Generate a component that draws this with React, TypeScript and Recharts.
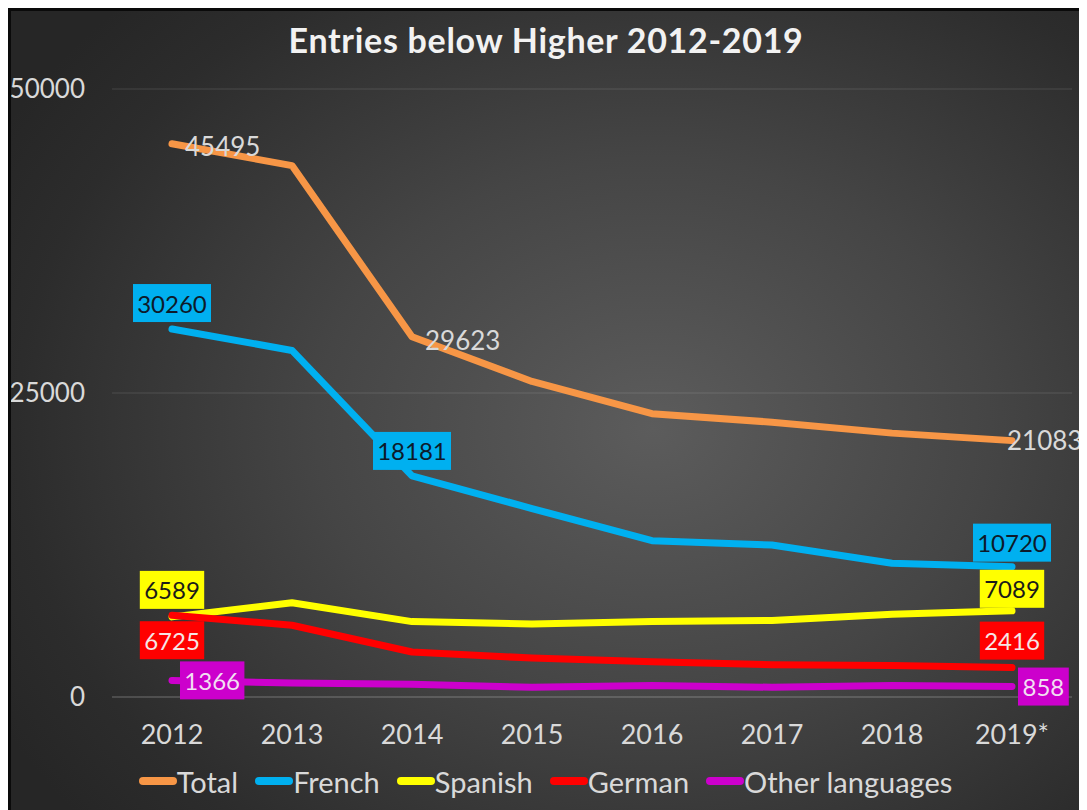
import { LineChart, Line, XAxis, YAxis, CartesianGrid, Legend, LabelList } from 'recharts';

const YEARS = ['2012', '2013', '2014', '2015', '2016', '2017', '2018', '2019*'];
const TOTAL = [45495, 43700, 29623, 25950, 23300, 22600, 21700, 21083];
const FRENCH = [30260, 28500, 18181, 15500, 12850, 12500, 11000, 10720];
const SPANISH = [6589, 7750, 6200, 6000, 6200, 6300, 6800, 7089];
const GERMAN = [6725, 5900, 3700, 3200, 2900, 2650, 2600, 2416];
const OTHER = [1366, 1150, 1050, 800, 950, 800, 950, 858];
const Y_TICKS = [0, 25000, 50000];

const SERIES = [
  { key: 'Total', color: '#F79646' },
  { key: 'French', color: '#00B0F0' },
  { key: 'Spanish', color: '#FFFF00' },
  { key: 'German', color: '#FF0000' },
  { key: 'Other languages', color: '#CC00CC' },
];

const data = YEARS.map((year, i) => ({
  year,
  Total: TOTAL[i],
  French: FRENCH[i],
  Spanish: SPANISH[i],
  German: GERMAN[i],
  'Other languages': OTHER[i],
}));

const FONT = 'Lato, "Open Sans", sans-serif';

type Spot = { i: number; dx: number; dy: number; side?: 'right' };

// label drawn at chosen points only, with optional coloured box
function makeLabel(spots: Spot[], box: string | null, fg: string, fs: number) {
  return (props: any) => {
    const { x, y, value, index } = props;
    const s = spots.find((p) => p.i === index);
    if (!s) return null;
    const text = String(value);
    const w = text.length * 13.6 + 10;
    const h = 38;
    let cx = x + s.dx;
    const cy = y + s.dy;
    if (s.side === 'right') cx += w / 2;
    if (!box) {
      return (
        <text key={`l-${index}`} x={x + s.dx} y={cy} dominantBaseline="central" fill={fg} fontSize={fs} fontFamily={FONT}>
          {text}
        </text>
      );
    }
    return (
      <g key={`l-${index}`}>
        <rect x={cx - w / 2} y={cy - h / 2} width={w} height={h} fill={box} />
        <text x={cx} y={cy} textAnchor="middle" dominantBaseline="central" fill={fg} fontSize={fs} fontFamily={FONT}>
          {text}
        </text>
      </g>
    );
  };
}

const LABELS: Record<string, any> = {
  Total: makeLabel(
    [
      { i: 0, dx: 13, dy: 2 },
      { i: 2, dx: 13, dy: 3 },
      { i: 7, dx: -5, dy: -1 },
    ],
    null,
    '#d9d9d9',
    26,
  ),
  French: makeLabel(
    [
      { i: 0, dx: 0, dy: -26 },
      { i: 2, dx: 0, dy: -25 },
      { i: 7, dx: 0, dy: -24 },
    ],
    '#00B0F0',
    '#0d1a2a',
    24,
  ),
  Spanish: makeLabel(
    [
      { i: 0, dx: 0, dy: -27 },
      { i: 7, dx: 0, dy: -22 },
    ],
    '#FFFF00',
    '#1a1a1a',
    24,
  ),
  German: makeLabel(
    [
      { i: 0, dx: 0, dy: 25 },
      { i: 7, dx: 0, dy: -27 },
    ],
    '#FF0000',
    '#f5e6e6',
    24,
  ),
  'Other languages': makeLabel(
    [
      { i: 0, dx: 8, dy: 0, side: 'right' },
      { i: 7, dx: 6, dy: 0, side: 'right' },
    ],
    '#CC00CC',
    '#f2def2',
    24,
  ),
};

function LegendRow() {
  return (
    <div style={{ display: 'flex', justifyContent: 'center', alignItems: 'center', gap: 17, height: 40, paddingLeft: 8 }}>
      {SERIES.map((s) => (
        <div key={s.key} style={{ display: 'flex', alignItems: 'center' }}>
          <svg width={38} height={10}>
            <line x1={4} y1={5} x2={34} y2={5} stroke={s.color} strokeWidth={8} strokeLinecap="round" />
          </svg>
          <span style={{ color: '#d9d9d9', fontSize: 29, fontFamily: FONT }}>{s.key}</span>
        </div>
      ))}
    </div>
  );
}

export default function App() {
  return (
    <div
      style={{
        position: 'relative',
        width: 1076,
        height: 810,
        boxSizing: 'border-box',
        border: '3px solid #0a0a0a',
        background: 'radial-gradient(ellipse 70% 75% at 60% 52%, #5c5c5c 0%, #454545 45%, #2c2c2c 85%, #262626 100%)',
      }}
    >
      <div
        style={{
          position: 'absolute',
          top: 8,
          left: 0,
          width: '100%',
          textAlign: 'center',
          color: '#f2f2f2',
          fontFamily: FONT,
          fontWeight: 700,
          fontSize: 34,
          letterSpacing: 0.7,
        }}
      >
        Entries below Higher 2012-2019
      </div>
      <LineChart width={1073} height={804} data={data} margin={{ top: 78, right: 12, left: 0, bottom: 14 }}>
        <CartesianGrid horizontal vertical={false} stroke="rgba(255,255,255,0.13)" strokeWidth={1} />
        <XAxis
          dataKey="year"
          padding={{ left: 60, right: 60 }}
          axisLine={{ stroke: 'rgba(255,255,255,0.2)' }}
          tickLine={false}
          tickSize={0}
          tickMargin={28}
          height={64}
          tick={{ fill: '#d9d9d9', fontSize: 27, fontFamily: FONT }}
        />
        <YAxis
          domain={[0, 50000]}
          ticks={Y_TICKS}
          width={101}
          axisLine={false}
          tickLine={false}
          tickSize={0}
          tickMargin={27}
          tick={{ fill: '#d9d9d9', fontSize: 26, fontFamily: FONT }}
        />
        <Legend verticalAlign="bottom" content={<LegendRow />} />
        {SERIES.map((s) => (
          <Line
            key={s.key}
            type="linear"
            dataKey={s.key}
            stroke={s.color}
            strokeWidth={7}
            strokeLinecap="round"
            strokeLinejoin="round"
            dot={false}
            activeDot={false}
            isAnimationActive={false}
          >
            <LabelList dataKey={s.key} content={LABELS[s.key]} />
          </Line>
        ))}
      </LineChart>
    </div>
  );
}
